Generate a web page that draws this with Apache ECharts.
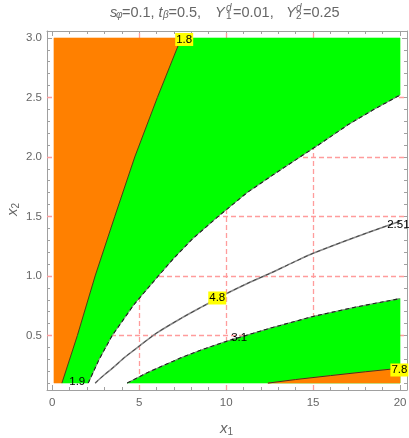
<!DOCTYPE html>
<html>
<head>
<meta charset="utf-8">
<script src="https://cdn.jsdelivr.net/npm/echarts@6/dist/echarts.min.js"></script>
<style>
  html, body { margin: 0; padding: 0; background: #fff; }
  #chart { width: 409px; height: 438px; }
</style>
</head>
<body>
<div id="chart"></div>
<script>
// tick labels and grid positions
var xMajor = [0, 5, 10, 15, 20];
var yMajor = [0.5, 1.0, 1.5, 2.0, 2.5, 3.0];
var xGrid = [5, 10, 15];
var yGrid = [0.5, 1.0, 1.5, 2.0, 2.5];

// plotted region
var xRange = [0.1, 20];
var yRange = [0.1, 3.0];

// contour curves, [x1, x2]
var edge18 = [[0.56, 0.1], [1.45, 0.5], [2.47, 1.0], [3.6, 1.5], [4.75, 2.0], [6.05, 2.5], [7.42, 3.0]];
var upperDash = [[2.07, 0.1], [2.7, 0.3], [3.45, 0.5], [4.7, 0.76], [6.1, 1.0], [7.0, 1.15], [8.05, 1.31], [9.54, 1.5],
  [11.2, 1.7], [12.7, 1.85], [14.25, 2.0], [15.6, 2.13], [17.0, 2.27], [18.5, 2.4], [20, 2.52]];
var midCurve = [[2.47, 0.1], [3, 0.17], [3.5, 0.23], [4.2, 0.32], [5, 0.41], [6, 0.52], [7.36, 0.64], [8.6, 0.74],
  [10, 0.85], [11.4, 0.95], [12.5, 1.02], [13.8, 1.11], [15, 1.19], [17.5, 1.33], [20, 1.46]];
var lowerDash = [[4.31, 0.1], [5.5, 0.19], [7.36, 0.31], [8.6, 0.38], [10, 0.45], [12.5, 0.56], [15, 0.66], [17.5, 0.74], [20, 0.81]];
var edge78 = [[12.4, 0.1], [14, 0.13], [16, 0.163], [18, 0.195], [20, 0.225]];

// contour labels: text, x1, x2, highlighted
var contourLabels = [
  ['1.8', 7.59, 2.987, true],
  ['1.9', 1.44, 0.109, false],
  ['4.8', 9.49, 0.815, true],
  ['3.1', 10.75, 0.479, false],
  ['2.51', 19.9, 1.428, false],
  ['7.8', 19.96, 0.21, true]
];

var X_MIN = -0.298, X_MAX = 20.398, Y_MIN = 0.042, Y_MAX = 3.058;
var FONT = '"Liberation Sans", Arial, sans-serif';
var frameColor = '#a0a0a0';
var labelColor = '#666';
var titleColor = '#666';

var xMinor = [], yMinor = [];
for (var i = 1; i < 20; i++) if (i % 5) xMinor.push(i);
for (var j = 1; j < 30; j++) if (j % 5) yMinor.push(+(j / 10).toFixed(1));

// region polygons
var orangeLeft = [[xRange[0], yRange[0]]].concat(edge18, [[xRange[0], yRange[1]]]);
var greenTop = edge18.concat([[xRange[1], yRange[1]]], upperDash.slice().reverse());
var greenBottom = lowerDash.concat([[xRange[1], yRange[0]]]);
var orangeBottom = edge78.concat([[xRange[1], yRange[0]]]);

function makeX(pos, ticks, len, withLine, withLabel) {
  return {
    type: 'value', position: pos, min: X_MIN, max: X_MAX,
    axisLine: { show: withLine, onZero: false, lineStyle: { color: frameColor, width: 1 } },
    axisTick: { show: true, inside: true, length: len, customValues: ticks, lineStyle: { color: frameColor } },
    axisLabel: withLabel ? { show: true, customValues: xMajor, color: labelColor, fontSize: 11.5, fontFamily: FONT, margin: 7 } : { show: false },
    splitLine: { show: false }
  };
}
function makeY(pos, ticks, len, withLine, withLabel) {
  return {
    type: 'value', position: pos, min: Y_MIN, max: Y_MAX,
    axisLine: { show: withLine, onZero: false, lineStyle: { color: frameColor, width: 1 } },
    axisTick: { show: true, inside: true, length: len, customValues: ticks, lineStyle: { color: frameColor } },
    axisLabel: withLabel ? {
      show: true, customValues: yMajor, color: labelColor, fontSize: 11.5, fontFamily: FONT, margin: 5,
      formatter: function (v) { return v.toFixed(1); }
    } : { show: false },
    splitLine: { show: false }
  };
}

function polygonSeries(points, color, z) {
  return {
    type: 'custom', coordinateSystem: 'cartesian2d', z: z, silent: true,
    data: [[points[0][0], points[0][1]]],
    renderItem: function (params, api) {
      return {
        type: 'polygon',
        shape: { points: points.map(function (p) { return api.coord(p); }) },
        style: { fill: color, stroke: color, lineWidth: 0.5 }
      };
    }
  };
}
function lineSeries(data, color, width, type, z, smooth) {
  return {
    type: 'line', data: data, z: z, silent: true, showSymbol: false, symbol: 'none',
    smooth: smooth || false,
    lineStyle: { color: color, width: width, type: type }
  };
}

var chart = echarts.init(document.getElementById('chart'));
var gridMarks = xGrid.map(function (v) { return { xAxis: v }; })
  .concat(yGrid.map(function (v) { return { yAxis: v }; }));

chart.setOption({
  animation: false,
  grid: { left: 47, top: 31, width: 360, height: 359, containLabel: false, outerBoundsMode: 'none' },
  xAxis: [
    makeX('bottom', xMajor, 5, true, true),
    makeX('bottom', xMinor, 3, false, false),
    makeX('top', xMajor, 5, true, false),
    makeX('top', xMinor, 3, false, false)
  ],
  yAxis: [
    makeY('left', yMajor, 5, true, true),
    makeY('left', yMinor, 3, false, false),
    makeY('right', yMajor, 5, true, false),
    makeY('right', yMinor, 3, false, false)
  ],
  graphic: [
    // title
    { type: 'group', left: 110, top: 3, children: [
      { type: 'text', x: 0, y: 0, style: { text: 's', font: 'italic 14.5px ' + FONT, fill: titleColor } },
      { type: 'text', x: 6, y: 5, style: { text: 'φ', font: 'italic 10px ' + FONT, fill: titleColor } },
      { type: 'text', x: 12, y: 0, style: { text: '=0.1,', font: '14.5px ' + FONT, fill: titleColor } },
      { type: 'text', x: 48.5, y: 0, style: { text: 't', font: 'italic 14.5px ' + FONT, fill: titleColor } },
      { type: 'text', x: 53, y: 5, style: { text: 'β', font: 'italic 10px ' + FONT, fill: titleColor } },
      { type: 'text', x: 58.5, y: 0, style: { text: '=0.5,', font: '14.5px ' + FONT, fill: titleColor } },
      { type: 'text', x: 105, y: 0, style: { text: 'Y', font: 'italic 14.5px ' + FONT, fill: titleColor } },
      { type: 'text', x: 116, y: -2, style: { text: 'd', font: 'italic 10px ' + FONT, fill: titleColor } },
      { type: 'text', x: 116, y: 6, style: { text: '1', font: '10px ' + FONT, fill: titleColor } },
      { type: 'text', x: 123, y: 0, style: { text: '=0.01,', font: '14.5px ' + FONT, fill: titleColor } },
      { type: 'text', x: 176, y: 0, style: { text: 'Y', font: 'italic 14.5px ' + FONT, fill: titleColor } },
      { type: 'text', x: 186, y: -2, style: { text: 'd', font: 'italic 10px ' + FONT, fill: titleColor } },
      { type: 'text', x: 186, y: 6, style: { text: '2', font: '10px ' + FONT, fill: titleColor } },
      { type: 'text', x: 193, y: 0, style: { text: '=0.25', font: '14.5px ' + FONT, fill: titleColor } }
    ] },
    // x1 axis name
    { type: 'group', left: 220, top: 421, children: [
      { type: 'text', x: 0, y: 0, style: { text: 'x', font: 'italic 15px ' + FONT, fill: labelColor } },
      { type: 'text', x: 7.5, y: 6, style: { text: '1', font: '10px ' + FONT, fill: labelColor } }
    ] },
    // x2 axis name
    { type: 'group', x: 5, y: 216, rotation: Math.PI / 2, children: [
      { type: 'text', x: 0, y: 0, style: { text: 'x', font: 'italic 15px ' + FONT, fill: labelColor } },
      { type: 'text', x: 7.5, y: 6, style: { text: '2', font: '10px ' + FONT, fill: labelColor } }
    ] }
  ],
  series: [
    {
      type: 'line', data: [[X_MIN, Y_MIN]], z: 1, silent: true, symbol: 'none',
      lineStyle: { width: 0 },
      markLine: {
        z: 1, silent: true, symbol: 'none', label: { show: false },
        lineStyle: { color: '#ff9c9c', width: 1.3, type: [5, 3] },
        data: gridMarks
      }
    },
    polygonSeries(orangeLeft, '#ff8000', 2),
    polygonSeries(greenTop, '#00ff00', 2),
    polygonSeries(greenBottom, '#00ff00', 2),
    polygonSeries(orangeBottom, '#ff8000', 2),
    lineSeries(edge18, '#5a3412', 1, 'solid', 3),
    lineSeries(edge78, '#4a3020', 1, 'solid', 3),
    lineSeries(upperDash, '#888', 1, 'solid', 3),
    lineSeries(upperDash, '#222', 1.1, [4, 3], 3),
    lineSeries(lowerDash, '#888', 1, 'solid', 3),
    lineSeries(lowerDash, '#222', 1.1, [4, 3], 3),
    lineSeries(midCurve, '#8a8a8a', 1.6, 'solid', 3, 0.3),
    lineSeries(midCurve, '#444', 1, [4, 3], 3, 0.3),
    {
      type: 'custom', coordinateSystem: 'cartesian2d', z: 4, silent: true,
      data: contourLabels.map(function (l) { return [l[1], l[2]]; }),
      renderItem: function (params, api) {
        var l = contourLabels[params.dataIndex];
        var p = api.coord([l[1], l[2]]);
        return {
          type: 'text', x: p[0], y: p[1],
          style: {
            text: l[0], font: '11.5px ' + FONT, fill: '#000',
            align: 'center', verticalAlign: 'middle',
            backgroundColor: l[3] ? '#ffff00' : 'transparent',
            padding: [1, 1, 0, 1]
          }
        };
      }
    }
  ]
});
</script>
</body>
</html>
